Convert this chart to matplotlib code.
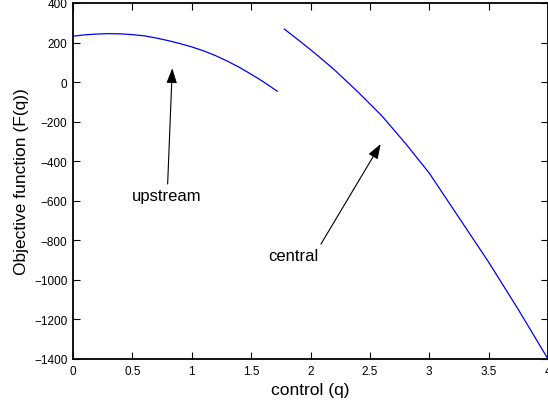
import matplotlib
matplotlib.use("Agg")
import matplotlib.pyplot as plt

plt.rcParams['font.family'] = ['Liberation Sans', 'DejaVu Sans']

# upstream scheme
q_up = [0.0, 0.1, 0.2, 0.3, 0.4, 0.5, 0.6, 0.7, 0.8, 0.9, 1.0, 1.1, 1.2, 1.3, 1.4, 1.5, 1.6, 1.72]
F_up = [232, 239, 243, 245, 244, 240, 234, 223, 210, 195, 178, 158, 134, 106, 75, 40, 3, -46]

# central scheme
q_c = [1.78, 1.9, 2.0, 2.1, 2.2, 2.4, 2.6, 2.8, 3.0, 3.25, 3.5, 3.75, 4.0]
F_c = [268, 212, 164, 114, 63, -50, -170, -310, -460, -685, -910, -1150, -1400]

xticks = [0, 0.5, 1, 1.5, 2, 2.5, 3, 3.5, 4]
xticklabels = ['0', '0.5', '1', '1.5', '2', '2.5', '3', '3.5', '4']
yticks = [-1400, -1200, -1000, -800, -600, -400, -200, 0, 200, 400]

fig = plt.figure(figsize=(5.48, 4.06), dpi=100)
ax = fig.add_axes([73/548, 46/406, 475/548, 356/406])

ax.plot(q_up, F_up, color='#0000ff', lw=0.9)
ax.plot(q_c, F_c, color='#0000ff', lw=0.9)

ax.set_xlim(0, 4)
ax.set_ylim(-1400, 400)
ax.set_xticks(xticks)
ax.set_xticklabels(xticklabels)
ax.set_yticks(yticks)

for s in ax.spines.values():
    s.set_linewidth(1.3)
ax.tick_params(direction='in', length=5, width=0.8, labelsize=8.5,
               top=True, right=True, pad=4)

ax.set_xlabel('control (q)', fontsize=12.5, labelpad=4)
ax.set_ylabel('Objective function (F(q))', fontsize=12.5, labelpad=4)

arrow = dict(arrowstyle='-|>,head_length=0.9,head_width=0.32', color='black', lw=0.8,
             shrinkA=0, shrinkB=0)
ax.annotate('', xy=(0.836, 70), xytext=(0.797, -515), arrowprops=arrow)
ax.text(0.789, -574, 'upstream', fontsize=12, ha='center', va='center')

ax.annotate('', xy=(2.591, -313), xytext=(2.088, -819), arrowprops=arrow)
ax.text(1.645, -878, 'central', fontsize=12, ha='left', va='center')

fig.savefig('out.png', dpi=100)
